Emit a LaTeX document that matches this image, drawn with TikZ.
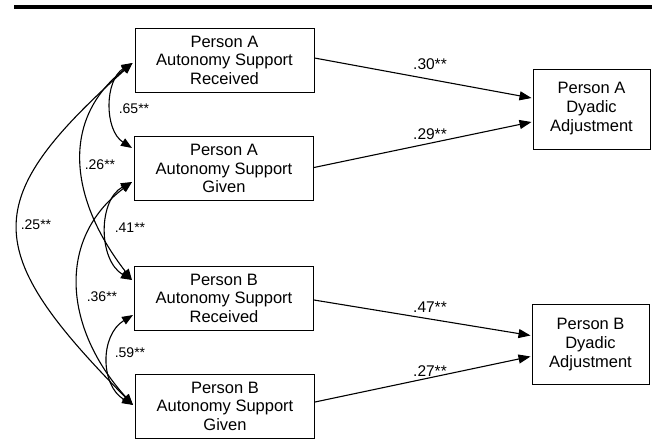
\documentclass[tikz,border=0pt]{standalone}
\usepackage{fontspec}
\setmainfont{Liberation Sans}
\usetikzlibrary{arrows.meta,calc}
\tikzset{
  box/.style={draw, line width=1pt, minimum width=179pt, minimum height=64pt, inner sep=0pt, align=center, font=\fontsize{16.5}{18.5}\selectfont},
  adj/.style={draw, line width=1pt, minimum width=117pt, minimum height=80pt, inner sep=0pt, align=center, font=\fontsize{16.5}{19}\selectfont},
  path/.style={line width=1.1pt, -{Triangle[length=12pt,width=9pt]}},
  cor/.style={line width=1.1pt, {Triangle[length=11pt,width=8.5pt]}-{Triangle[length=11pt,width=8.5pt]}},
  coef/.style={inner sep=0pt, font=\fontsize{15.5}{16}\selectfont},
  lcoef/.style={inner sep=0pt, font=\fontsize{14}{15}\selectfont}
}
\begin{document}
\begin{tikzpicture}[x=1pt,y=-1pt]
\useasboundingbox (0,0) rectangle (652,439);
\draw[line width=3.3pt] (14,7) -- (652,7);

\node[box] (b1) at (224.5,60) {Person A\\Autonomy Support\\Received};
\node[box] (b2) at (224,168.5) {Person A\\Autonomy Support\\Given};
\node[box] (b3) at (224,298) {Person B\\Autonomy Support\\Received};
\node[box] (b4) at (225,406) {Person B\\Autonomy Support\\Given};
\node[adj] (adjA) at (591.5,109) {Person A\\Dyadic\\Adjustment};
\node[adj] (adjB) at (590.5,344.5) {Person B\\Dyadic\\Adjustment};

% actor/partner paths
\draw[path] ($(b1.east)+(0,-2)$) -- ($(adjA.west)+(-1,-11)$);
\draw[path] ($(b2.east)+(0,-1)$) -- ($(adjA.west)+(-1,13)$);
\draw[path] ($(b3.east)+(0,2)$) -- ($(adjB.west)+(-1,-9)$);
\draw[path] ($(b4.east)+(0,-4)$) -- ($(adjB.west)+(-1,12)$);

\node[coef] (c30) at (430,64) {.30**};
\node[coef] (c29) at (430,134) {.29**};
\node[coef] (c47) at (430,307.5) {.47**};
\node[coef] (c27) at (430,371) {.27**};

% correlation endpoints
\coordinate (p1) at ($(b1.west)+(-2,3)$);
\coordinate (p2a) at ($(b2.west)+(-2,-20.5)$);
\coordinate (p2b) at ($(b2.west)+(-2,13.5)$);
\coordinate (p3a) at ($(b3.west)+(-2,-18)$);
\coordinate (p3b) at ($(b3.west)+(-1,17)$);
\coordinate (p4) at ($(b4.west)+(-2,-1)$);

\draw[cor] (p1) .. controls +(-28,17) and +(-28,-18) .. (p2a);
\draw[cor] (p1) .. controls +(-153,137) and +(-153,-155) .. (p4);
\draw[cor] (p1) .. controls +(-73,57) and +(-62,-80) .. (p3a);
\draw[cor] (p2b) .. controls +(-34,18) and +(-34,-20) .. (p3a);
\draw[cor] (p2b) .. controls +(-77,58) and +(-68,-75) .. (p4);
\draw[cor] (p3b) .. controls +(-33,20) and +(-33,-20) .. (p4);

\node[lcoef] (l65) at (134,109) {.65**};
\node[lcoef] (l26) at (100,165) {.26**};
\node[lcoef] (l41) at (130,228) {.41**};
\node[lcoef] (l36) at (102,297) {.36**};
\node[lcoef] (l59) at (130,353) {.59**};
\node[lcoef] (l25) at (36,225) {.25**};
\end{tikzpicture}
\end{document}
